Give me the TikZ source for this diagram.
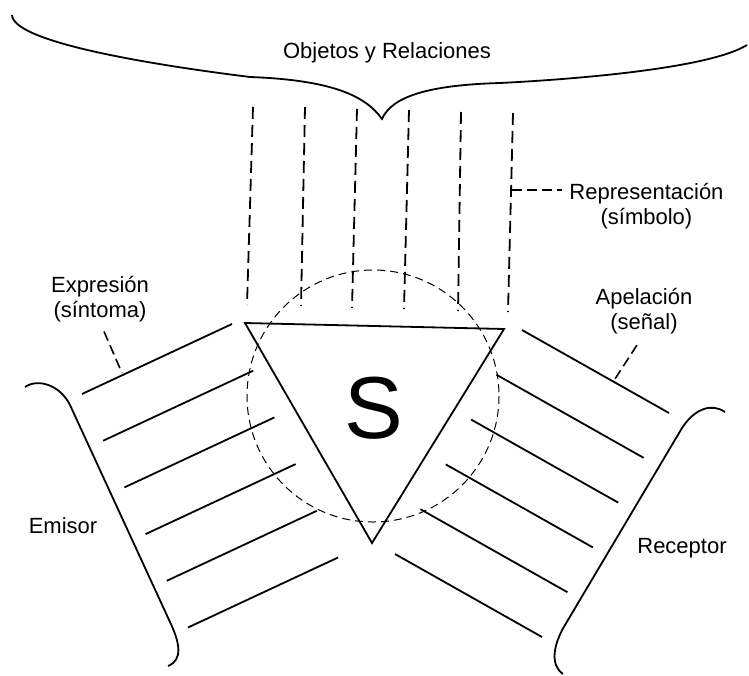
\documentclass[tikz,border=0pt]{standalone}
\usepackage{fontspec}
\setmainfont{Liberation Sans}
\usetikzlibrary{calc}

\begin{document}
\begin{tikzpicture}[
    x=0.5pt,y=-0.5pt,
    stroke/.style={line width=0.9pt,black},
    ray/.style={line width=0.9pt,dash pattern=on 6pt off 3pt},
    leader/.style={line width=0.8pt,dash pattern=on 5pt off 2.5pt},
    field/.style={line width=0.5pt,dash pattern=on 4pt off 2.5pt},
    lbl/.style={font=\fontsize{11}{12.5}\selectfont,align=center,inner sep=0pt},
]
\useasboundingbox (0,0) rectangle (749,675);

% === OBJECTS (brace on top) ===
\draw[stroke] (12,15) .. controls (13,40) and (130,62) .. (250,77)
    .. controls (330,80) and (365,95) .. (382,119) coordinate (tip)
    .. controls (392,96) and (430,85) .. (500,83)
    .. controls (580,79) and (710,68) .. (747,45);
\node[lbl] (objects) at (387,53) {Objetos y Relaciones};

% === SIGN ===
\coordinate (tl) at (245,323);
\coordinate (tr) at (504,329);
\coordinate (tb) at (372,543);
\draw[stroke] (tl) -- (tr) -- (tb) -- cycle;
\node[font=\fontsize{44}{44}\selectfont] (sign) at (374,408) {S};
\draw[field] (373,396) circle[radius=126];

% rays towards the objects
\foreach \xa/\ya/\xb/\yb in {253/107/247/305,305/107/301/306,357/109/352/308,
                             409/110/404/309,461/112/458/311,513/113/508/312}
    \draw[ray] (\xa,\ya) -- (\xb,\yb);

% rays towards sender and receiver
\foreach \i in {0,...,5}
    \draw[stroke] ($(82,394)+\i*(21.2,46.7)$) -- ++(150,-70);
\foreach \i in {0,...,5}
    \draw[stroke] ($(522,330)+\i*(-25.4,44.8)$) -- ++(147,83);

% === SENDER / RECEIVER ===
\draw[stroke] (25,387) .. controls (38,378) and (60,385) .. (70,405)
    -- (170,622) .. controls (180,643) and (183,660) .. (168,666);
\draw[stroke] (725,412) .. controls (712,403) and (695,408) .. (682,428)
    -- (565,625) .. controls (553,645) and (550,665) .. (563,674);
\node[lbl] (sender) at (63,526) {Emisor};
\node[lbl] (receiver) at (682,548) {Receptor};

% === FUNCTIONS ===
\node[lbl] (expr) at (100,299) {Expresión\\(síntoma)};
\node[lbl] (appeal) at (644,311) {Apelación\\(señal)};
\node[lbl,anchor=west] (repr) at (569,206) {Representación\\(símbolo)};

\coordinate (exprfoot) at (122,373);
\coordinate (appealfoot) at (613,382);
\coordinate (reprfoot) at (512,190);
\draw[leader,shorten <=5pt] (expr.south) -- (exprfoot);
\draw[leader,shorten <=6.5pt] (appeal.south) -- (appealfoot);
\draw[leader,shorten >=3.5pt] (reprfoot) -- (reprfoot -| repr.west);

\end{tikzpicture}
\end{document}
